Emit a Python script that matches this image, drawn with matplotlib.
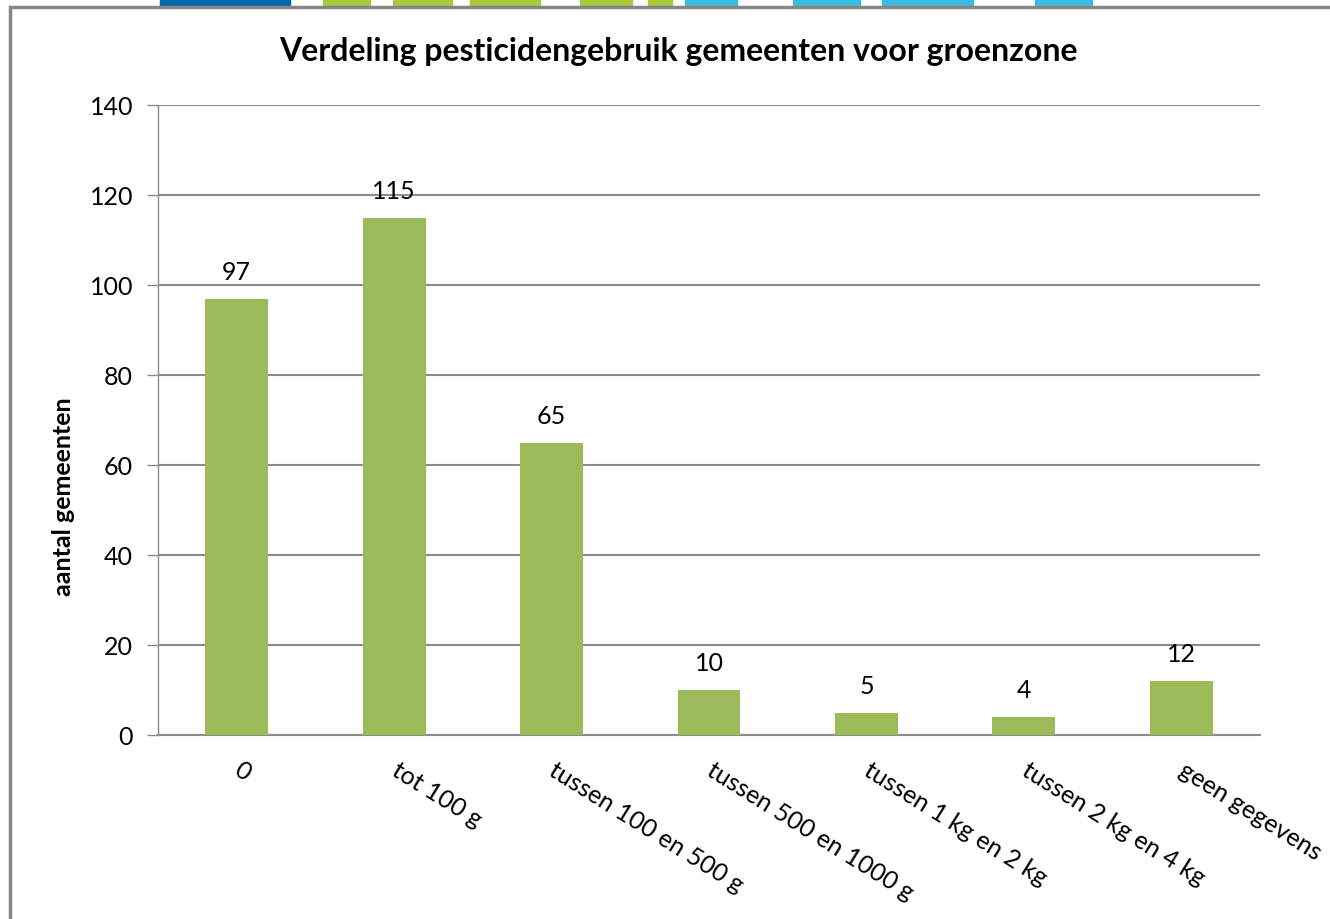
import numpy as np
import matplotlib
matplotlib.use("Agg")
from matplotlib import pyplot as plt
from matplotlib.patches import Rectangle
from matplotlib.transforms import ScaledTranslation

plt.rcParams['font.family'] = ['Lato', 'DejaVu Sans']

categories = ["0", "tot 100 g", "tussen 100 en 500 g", "tussen 500 en 1000 g",
              "tussen 1 kg en 2 kg", "tussen 2 kg en 4 kg", "geen gegevens"]
counts = [97, 115, 65, 10, 5, 4, 12]
yticks = [0, 20, 40, 60, 80, 100, 120, 140]

W, H = 1330, 920
fig = plt.figure(figsize=(W / 100, H / 100), dpi=100)

# bits of the logo peeking above the chart frame (pixel spans, top strip)
logo = [(160, 290, "#0066b0"), (323, 370, "#a9c93a"), (393, 452, "#a9c93a"),
        (470, 540, "#a9c93a"), (580, 632, "#a9c93a"), (648, 672, "#a9c93a"),
        (685, 737, "#38bde0"), (793, 860, "#38bde0"), (882, 973, "#38bde0"),
        (1035, 1092, "#38bde0")]
for x0, x1, c in logo:
    fig.patches.append(Rectangle((x0 / W, 1 - 8 / H), (x1 - x0) / W, 8 / H,
                                 transform=fig.transFigure, color=c, zorder=0))

# chart frame
fig.patches.append(Rectangle((10 / W, -0.05), 1.1, 1.05 - 8 / H, transform=fig.transFigure,
                             fill=False, edgecolor="#868686", linewidth=2.5, zorder=1))

ax = fig.add_axes([158 / W, 184 / H, 1102 / W, 630 / H])
x = np.arange(len(categories))
bars = ax.bar(x, counts, width=0.4, color="#9bbb59", zorder=3)

ax.set_xlim(-0.5, len(categories) - 0.5)
ax.set_ylim(0, 140)
ax.set_yticks(yticks)
ax.set_yticklabels([str(v) for v in yticks], fontsize=18)
ax.yaxis.grid(True, color="#8c8c8c", linewidth=1.5, zorder=0)
ax.tick_params(axis='y', length=8, width=1, color="#8c8c8c", pad=10)
ax.tick_params(axis='x', length=0, pad=16)

for side in ["top", "right"]:
    ax.spines[side].set_visible(False)
ax.spines["left"].set_color("#8c8c8c")
ax.spines["left"].set_linewidth(1)
ax.spines["bottom"].set_color("#8c8c8c")
ax.spines["bottom"].set_linewidth(1.5)

ax.set_xticks(x)
ax.set_xticklabels(categories, fontsize=18, rotation=-32, ha='left',
                   rotation_mode='anchor')
shift = ScaledTranslation(6 / 100, 0, fig.dpi_scale_trans)
for lbl in ax.get_xticklabels():
    lbl.set_transform(lbl.get_transform() + shift)

for xi, v in zip(x, counts):
    ax.text(xi, v + 3.5, str(v), ha='center', va='bottom', fontsize=18)

ax.set_ylabel("aantal gemeenten", fontsize=18, fontweight='bold')
ax.yaxis.set_label_coords(-0.0753, 0.38)

fig.text(678 / W, 1 - 52 / H, "Verdeling pesticidengebruik gemeenten voor groenzone",
         ha='center', va='center', fontsize=23, fontweight='bold')

fig.savefig("out.png", dpi=100)
